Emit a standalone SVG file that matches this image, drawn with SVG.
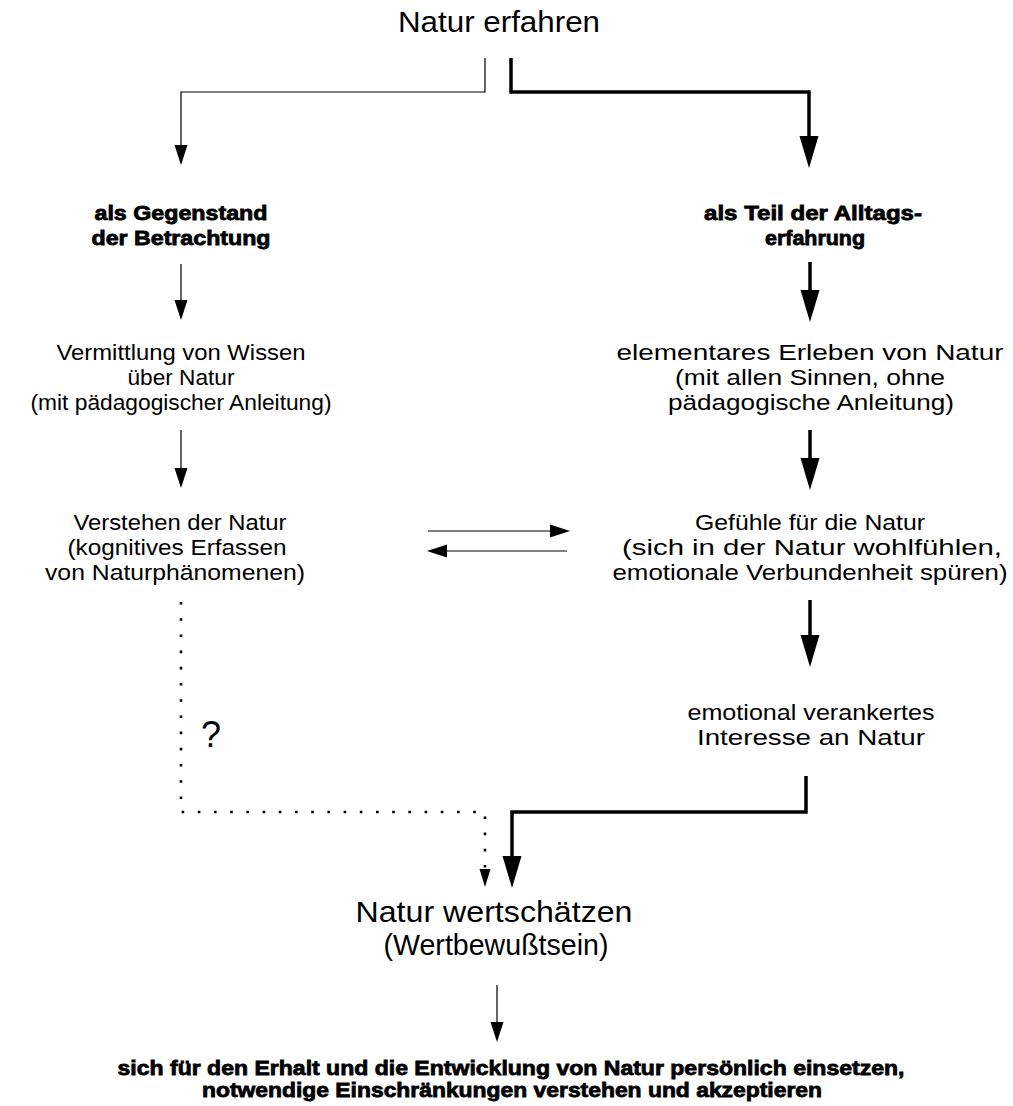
<svg xmlns="http://www.w3.org/2000/svg" width="1013" height="1106" viewBox="0 0 1013 1106">
<style>
text{font-family:"Liberation Sans",Arial,sans-serif;fill:#000;text-anchor:middle}
.l{font-size:22px}
.big{font-size:30px}
.b{font-size:20.5px;font-weight:bold;stroke:#000;stroke-width:0.8}
.thin{fill:none;stroke:#000;stroke-width:1.2}
.thick{fill:none;stroke:#000;stroke-width:3.5}
.dot{fill:none;stroke:#000;stroke-width:2.6;stroke-dasharray:2.6 13.6}
</style>
<defs>
<marker id="at" markerUnits="userSpaceOnUse" markerWidth="22" markerHeight="14" refX="1" refY="6.5" orient="auto" overflow="visible"><path d="M0,0 L20,6.5 L0,13 Z" fill="#000"/></marker>
<marker id="ak" markerUnits="userSpaceOnUse" markerWidth="34" markerHeight="20" refX="2" refY="9.5" orient="auto" overflow="visible"><path d="M0,0 L32,9.5 L0,19 Z" fill="#000"/></marker>
<marker id="ad" markerUnits="userSpaceOnUse" markerWidth="20" markerHeight="12" refX="1" refY="5.5" orient="auto" overflow="visible"><path d="M0,0 L18,5.5 L0,11 Z" fill="#000"/></marker>
</defs>
<g id="connectors">
<path class="thin" d="M485,58 V92 H181 V146" marker-end="url(#at)"/>
<path class="thick" d="M511,58 V92 H809 V138" marker-end="url(#ak)"/>
<path class="thin" d="M181,264 V301" marker-end="url(#at)"/>
<path class="thin" d="M181,430 V469" marker-end="url(#at)"/>
<path class="thick" d="M810,262 V292" marker-end="url(#ak)"/>
<path class="thick" d="M810,430 V460" marker-end="url(#ak)"/>
<path class="thick" d="M810,600 V637" marker-end="url(#ak)"/>
<path class="thin" d="M428,531 H551" marker-end="url(#at)"/>
<path class="thin" d="M567,551 H446" marker-end="url(#at)"/>
<path class="dot" d="M181,602 V812 H485 V870" marker-end="url(#ad)"/>
<path class="thick" d="M806,776 V812 H512 V858" marker-end="url(#ak)"/>
<path class="thin" d="M497,985 V1023" marker-end="url(#at)"/>
</g>
<g id="n-top"><text class="big" x="499" y="32" textLength="202" lengthAdjust="spacingAndGlyphs">Natur erfahren</text></g>
<g id="n-gegenstand">
<text class="b" x="181" y="220" textLength="173" lengthAdjust="spacingAndGlyphs">als Gegenstand</text>
<text class="b" x="181" y="245" textLength="179" lengthAdjust="spacingAndGlyphs">der Betrachtung</text>
</g>
<g id="n-alltag">
<text class="b" x="813" y="220" textLength="218" lengthAdjust="spacingAndGlyphs">als Teil der Alltags-</text>
<text class="b" x="815" y="245" textLength="100" lengthAdjust="spacingAndGlyphs">erfahrung</text>
</g>
<g id="n-vermittlung">
<text class="l" x="181" y="360" textLength="249" lengthAdjust="spacingAndGlyphs">Vermittlung von Wissen</text>
<text class="l" x="181" y="385" textLength="107" lengthAdjust="spacingAndGlyphs">über Natur</text>
<text class="l" x="181" y="410" textLength="301" lengthAdjust="spacingAndGlyphs">(mit pädagogischer Anleitung)</text>
</g>
<g id="n-erleben">
<text class="l" x="810" y="360" textLength="387" lengthAdjust="spacingAndGlyphs">elementares Erleben von Natur</text>
<text class="l" x="810" y="385" textLength="270" lengthAdjust="spacingAndGlyphs">(mit allen Sinnen, ohne</text>
<text class="l" x="811" y="410" textLength="286" lengthAdjust="spacingAndGlyphs">pädagogische Anleitung)</text>
</g>
<g id="n-verstehen">
<text class="l" x="180" y="530" textLength="213" lengthAdjust="spacingAndGlyphs">Verstehen der Natur</text>
<text class="l" x="177" y="555" textLength="219" lengthAdjust="spacingAndGlyphs">(kognitives Erfassen</text>
<text class="l" x="175" y="580" textLength="260" lengthAdjust="spacingAndGlyphs">von Naturphänomenen)</text>
</g>
<g id="n-gefuehle">
<text class="l" x="810" y="530" textLength="230" lengthAdjust="spacingAndGlyphs">Gefühle für die Natur</text>
<text class="l" x="812" y="555" textLength="380" lengthAdjust="spacingAndGlyphs">(sich in der Natur wohlfühlen,</text>
<text class="l" x="810" y="580" textLength="395" lengthAdjust="spacingAndGlyphs">emotionale Verbundenheit spüren)</text>
</g>
<g id="n-interesse">
<text class="l" x="811" y="720" textLength="247" lengthAdjust="spacingAndGlyphs">emotional verankertes</text>
<text class="l" x="811" y="745" textLength="228" lengthAdjust="spacingAndGlyphs">Interesse an Natur</text>
</g>
<g id="n-frage"><text x="211" y="747" style="font-size:36px">?</text></g>
<g id="n-wert">
<text class="big" x="494" y="922" textLength="277" lengthAdjust="spacingAndGlyphs">Natur wertschätzen</text>
<text class="big" x="496" y="955" textLength="225" lengthAdjust="spacingAndGlyphs">(Wertbewußtsein)</text>
</g>
<g id="n-einsetzen">
<text class="b" x="511" y="1075" textLength="787" lengthAdjust="spacingAndGlyphs">sich für den Erhalt und die Entwicklung von Natur persönlich einsetzen,</text>
<text class="b" x="512" y="1097" textLength="620" lengthAdjust="spacingAndGlyphs">notwendige Einschränkungen verstehen und akzeptieren</text>
</g>
</svg>
